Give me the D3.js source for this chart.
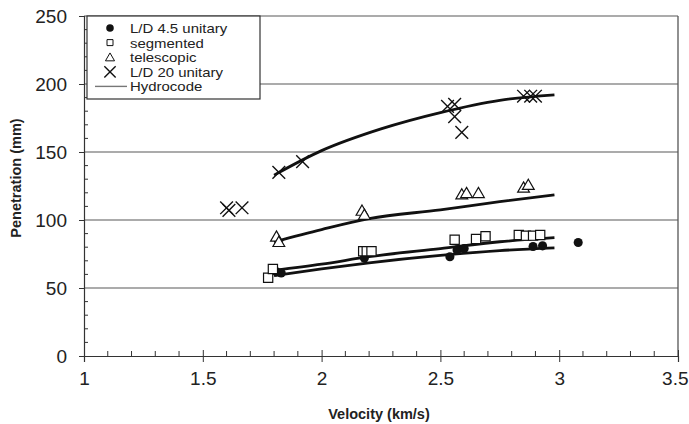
<!DOCTYPE html>
<html>
<head>
<meta charset="utf-8">
<script src="https://cdn.jsdelivr.net/npm/d3@7"></script>
<style>
  body { margin: 0; background: #fff; }
  svg { display: block; font-family: "Liberation Sans", Arial, sans-serif; }
</style>
</head>
<body>
<svg width="689" height="424"></svg>
<script>
// measured points, velocity (km/s) vs penetration (mm)
const ld45 = [[1.81, 62], [1.83, 61], [2.18, 72], [2.54, 73], [2.57, 78], [2.6, 79], [2.89, 80.5], [2.93, 81], [3.08, 83.5]];
const segmented = [[1.775, 57.5], [1.795, 64], [2.175, 77], [2.19, 77], [2.21, 77], [2.56, 85.5], [2.65, 86], [2.69, 88], [2.83, 89], [2.86, 88.5], [2.89, 88.5], [2.92, 89]];
const telescopic = [[1.81, 87], [1.82, 83], [2.17, 106], [2.18, 103], [2.59, 118], [2.61, 119], [2.66, 119], [2.85, 123], [2.87, 125]];
const ld20 = [[1.6, 109], [1.61, 107], [1.665, 109], [1.82, 135], [1.92, 143], [2.53, 183.5], [2.56, 185], [2.56, 176], [2.59, 164.5], [2.85, 191], [2.88, 191], [2.9, 191]];

// hydrocode curves
const hydroLd20 = [[1.8, 133], [2.0, 151], [2.25, 167], [2.5, 179], [2.75, 188], [2.98, 192]];
const hydroTele = [[1.8, 84], [2.0, 93], [2.2, 101], [2.5, 107.5], [2.75, 113.5], [2.98, 118.5]];
const hydroSeg = [[1.8, 63], [2.0, 67.5], [2.2, 73], [2.5, 79], [2.75, 84], [2.98, 87]];
const hydroLd45 = [[1.8, 59], [2.0, 64], [2.2, 68.5], [2.5, 74], [2.75, 77.5], [2.98, 79.5]];

const xTicks = [1, 1.5, 2, 2.5, 3, 3.5];
const yTicks = [0, 50, 100, 150, 200, 250];
const legendItems = ["L/D 4.5 unitary", "segmented", "telescopic", "L/D 20 unitary", "Hydrocode"];

const svg = d3.select("svg");
const x = d3.scaleLinear().domain([1, 3.5]).range([84, 678]);
const y = d3.scaleLinear().domain([0, 250]).range([356, 16]);

// gridlines
svg.append("g").selectAll("line")
  .data(yTicks.filter(d => d > 0))
  .join("line")
  .attr("x1", x(1)).attr("x2", x(3.5))
  .attr("y1", d => y(d)).attr("y2", d => y(d))
  .attr("stroke", "#8f8f8f").attr("stroke-width", 1.3);

// right border
svg.append("line")
  .attr("x1", x(3.5)).attr("x2", x(3.5))
  .attr("y1", y(250)).attr("y2", y(0))
  .attr("stroke", "#555").attr("stroke-width", 1.3);

// x axis
const xAxis = svg.append("g").attr("transform", `translate(0,${y(0)})`);
xAxis.call(d3.axisBottom(x).tickValues(xTicks).tickFormat(d3.format("")).tickSize(6).tickPadding(10));
xAxis.append("g").selectAll("line")
  .data(d3.range(11, 35).map(d => d / 10).filter(d => Math.abs(d * 2 - Math.round(d * 2)) > 1e-6))
  .join("line")
  .attr("x1", d => x(d)).attr("x2", d => x(d))
  .attr("y1", 0).attr("y2", -5)
  .attr("stroke", "#333");
xAxis.selectAll(".tick line").attr("y1", -6);

// y axis
const yAxis = svg.append("g").attr("transform", `translate(${x(1)},0)`);
yAxis.call(d3.axisLeft(y).tickValues(yTicks).tickSize(5).tickPadding(12));
yAxis.append("g").selectAll("line")
  .data(d3.range(10, 250, 10).filter(d => d % 50))
  .join("line")
  .attr("x1", 0).attr("x2", 4)
  .attr("y1", d => y(d)).attr("y2", d => y(d))
  .attr("stroke", "#333");

svg.selectAll(".domain").attr("stroke", "#333").attr("stroke-width", 1.2);
svg.selectAll(".tick line").attr("stroke", "#333");
svg.selectAll(".tick text").attr("font-size", 19).attr("fill", "#222")
  .attr("font-family", "Liberation Sans, Arial, sans-serif");
// last x label sits flush with the right edge
xAxis.selectAll(".tick text").filter(d => d === 3.5)
  .attr("text-anchor", "end").attr("x", 10);

// axis titles
svg.append("text")
  .attr("x", 379).attr("y", 419)
  .attr("text-anchor", "middle").attr("font-size", 14.5).attr("font-weight", "bold").attr("fill", "#222")
  .text("Velocity (km/s)");
svg.append("text")
  .attr("transform", "translate(21,178) rotate(-90)")
  .attr("text-anchor", "middle").attr("font-size", 14.5).attr("font-weight", "bold").attr("fill", "#222")
  .text("Penetration (mm)");

// hydrocode curves
const curve = d3.line().x(d => x(d[0])).y(d => y(d[1])).curve(d3.curveMonotoneX);
svg.append("g").selectAll("path")
  .data([hydroLd20, hydroTele, hydroSeg, hydroLd45])
  .join("path")
  .attr("d", curve)
  .attr("fill", "none").attr("stroke", "#111").attr("stroke-width", 2.8);

// markers
const sym = (type, size) => d3.symbol().type(type).size(size)();
svg.append("g").selectAll("path")
  .data(ld45).join("path")
  .attr("transform", d => `translate(${x(d[0])},${y(d[1])})`)
  .attr("d", sym(d3.symbolCircle, 65)).attr("fill", "#111");
svg.append("g").selectAll("path")
  .data(segmented).join("path")
  .attr("transform", d => `translate(${x(d[0])},${y(d[1])})`)
  .attr("d", sym(d3.symbolSquare, 85)).attr("fill", "#fff").attr("stroke", "#111").attr("stroke-width", 1.2);
svg.append("g").selectAll("path")
  .data(telescopic).join("path")
  .attr("transform", d => `translate(${x(d[0])},${y(d[1])})`)
  .attr("d", sym(d3.symbolTriangle, 60)).attr("fill", "#fff").attr("stroke", "#111").attr("stroke-width", 1.2);
svg.append("g").selectAll("path")
  .data(ld20).join("path")
  .attr("transform", d => `translate(${x(d[0])},${y(d[1])}) rotate(45)`)
  .attr("d", "M-9,0H9M0,-9V9")
  .attr("fill", "none").attr("stroke", "#111").attr("stroke-width", 1.4);

// legend
const lg = svg.append("g").attr("transform", "translate(87,16)");
lg.append("rect").attr("width", 173).attr("height", 83)
  .attr("fill", "#fff").attr("stroke", "#333").attr("stroke-width", 1.2);
const rows = lg.selectAll("g").data(legendItems).join("g")
  .attr("transform", (d, i) => `translate(0,${12 + i * 14.6})`);
rows.append("text")
  .attr("transform", "translate(43,5) scale(1.15,1)")
  .attr("font-size", 13).attr("fill", "#222").text(d => d);
rows.filter((d, i) => i === 0).append("path").attr("transform", "translate(23,0)")
  .attr("d", sym(d3.symbolCircle, 45)).attr("fill", "#111");
rows.filter((d, i) => i === 1).append("path").attr("transform", "translate(23,0)")
  .attr("d", sym(d3.symbolSquare, 36)).attr("fill", "#fff").attr("stroke", "#111");
rows.filter((d, i) => i === 2).append("path").attr("transform", "translate(23,1)")
  .attr("d", sym(d3.symbolTriangle, 36)).attr("fill", "#fff").attr("stroke", "#111");
rows.filter((d, i) => i === 3).append("path").attr("transform", "translate(23,0) rotate(45)")
  .attr("d", "M-8,0H8M0,-8V8").attr("stroke", "#111").attr("stroke-width", 1.4);
rows.filter((d, i) => i === 4).append("line")
  .attr("x1", 8).attr("x2", 40).attr("y1", 0).attr("y2", 0)
  .attr("stroke", "#777").attr("stroke-width", 1.4);
</script>
</body>
</html>
